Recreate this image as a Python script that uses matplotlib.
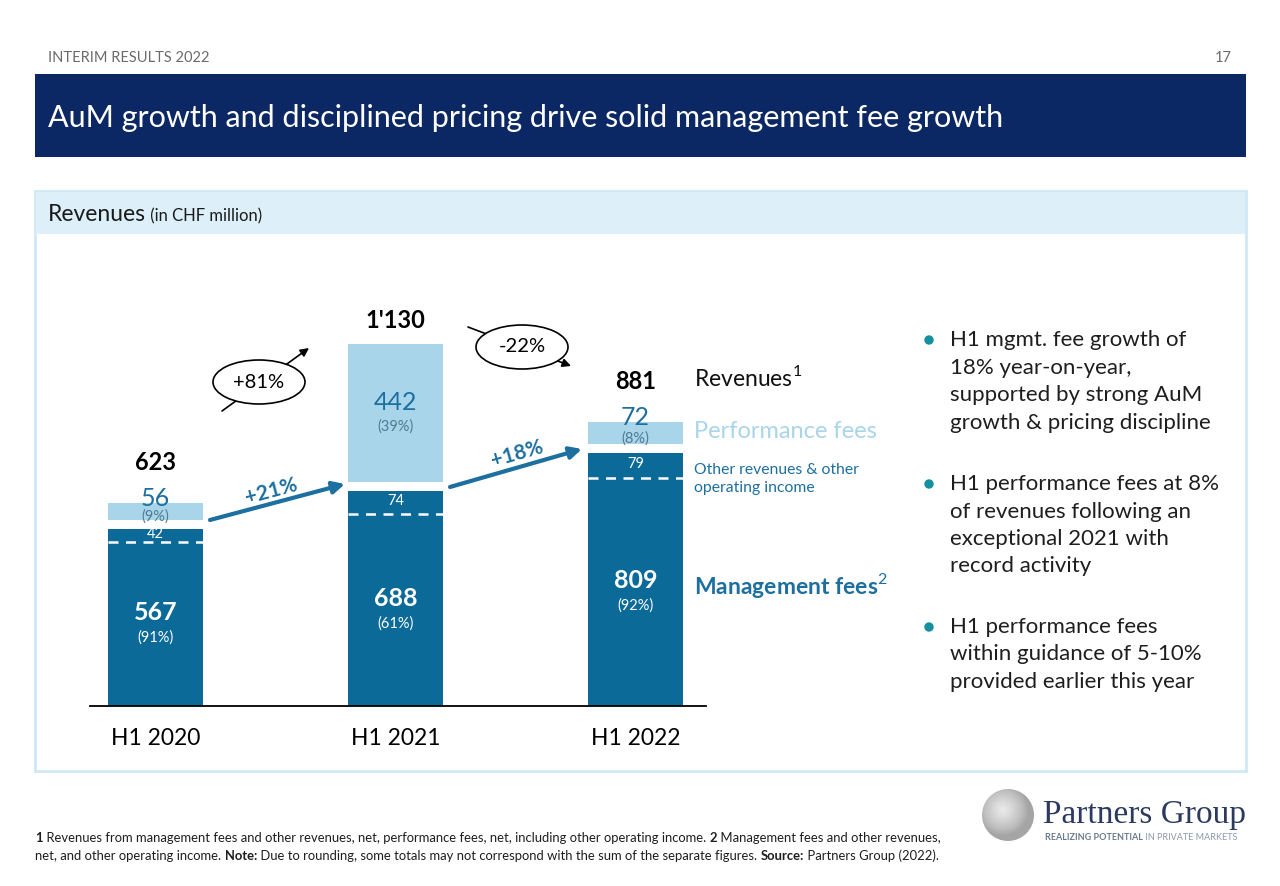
import numpy as np
import matplotlib
matplotlib.use("Agg")
from matplotlib import pyplot as plt
from matplotlib.patches import Rectangle, Ellipse, Circle

plt.rcParams["font.family"] = ["Lato", "DejaVu Sans"]
plt.rcParams["mathtext.fontset"] = "custom"
plt.rcParams["mathtext.rm"] = "Lato"
plt.rcParams["mathtext.bf"] = "Lato:bold"

# data (CHF million)
periods = ["H1 2020", "H1 2021", "H1 2022"]
mgmt_fees = np.array([567, 688, 809])      # incl. other revenues
other_rev = np.array([42, 74, 79])
perf_fees = np.array([56, 442, 72])
totals = ["623", "1'130", "881"]
mgmt_share = ["(91%)", "(61%)", "(92%)"]
perf_share = ["(9%)", "(39%)", "(8%)"]
growth_mgmt = ["+21%", "+18%"]
growth_total = ["+81%", "-22%"]

bullets = [
    ["H1 mgmt. fee growth of", "18% year-on-year,",
     "supported by strong AuM", "growth & pricing discipline"],
    ["H1 performance fees at 8%", "of revenues following an",
     "exceptional 2021 with", "record activity"],
    ["H1 performance fees", "within guidance of 5-10%",
     "provided earlier this year"],
]

DARK = "#0b6a98"
LIGHT = "#a8d5ea"
MID = "#1d6f9f"
NAVY = "#0c2864"
GAP = 28  # white gap between the two stacked blocks

W, H = 1280, 886
fig = plt.figure(figsize=(W / 100, H / 100), dpi=100)

# background layer in pixel coordinates
bg = fig.add_axes([0, 0, 1, 1], zorder=0)
bg.set_xlim(0, W)
bg.set_ylim(H, 0)
bg.axis("off")
bg.add_patch(Rectangle((35, 74), 1211, 83, color=NAVY, lw=0))
bg.add_patch(Rectangle((35, 191), 1211, 580, facecolor="white",
                       edgecolor="#cfe8f4", lw=2))
bg.add_patch(Rectangle((36, 192), 1209, 42, color="#ddf0f9", lw=0))

# chart axes
ax = fig.add_axes([90 / W, (H - 706) / H, 616 / W, 406 / H], zorder=1)
ax.patch.set_alpha(0)
x = np.arange(len(periods))
bw = 0.396
ax.bar(x, mgmt_fees, width=bw, color=DARK, lw=0)
ax.bar(x, perf_fees, width=bw, bottom=mgmt_fees + GAP, color=LIGHT, lw=0)
ax.hlines(mgmt_fees - other_rev, x - bw / 2, x + bw / 2, colors="white",
          linestyles=(0, (4, 3)), lw=1.8)
ax.set_xlim(-0.273, 2.294)
ax.set_ylim(0, 1299)
for s in ["top", "left", "right"]:
    ax.spines[s].set_visible(False)
ax.spines["bottom"].set_linewidth(1.3)
ax.set_yticks([])
ax.set_xticks(x, periods, fontsize=16.5)
ax.tick_params(axis="x", length=0, pad=16)

for i in range(len(periods)):
    m, o, p = mgmt_fees[i], other_rev[i], perf_fees[i]
    ax.annotate(str(m), (x[i], (m - o) / 2), xytext=(0, 8),
                textcoords="offset points", ha="center", va="center",
                color="white", fontsize=18, fontweight="bold")
    ax.annotate(mgmt_share[i], (x[i], (m - o) / 2), xytext=(0, -10),
                textcoords="offset points", ha="center", va="center",
                color="white", fontsize=10.5)
    ax.annotate(str(o), (x[i], m - o / 2), xytext=(0, 1),
                textcoords="offset points", ha="center", va="center",
                color="white", fontsize=10.5)
    ptop = m + GAP + p
    if p > 200:
        pc = m + GAP + p / 2
        ax.annotate(str(p), (x[i], pc), xytext=(0, 8),
                    textcoords="offset points", ha="center", va="center",
                    color=MID, fontsize=18)
        ax.annotate(perf_share[i], (x[i], pc), xytext=(0, -10),
                    textcoords="offset points", ha="center", va="center",
                    color="#4f7a96", fontsize=10.5)
        tot_off = 17
    else:
        ax.annotate(str(p), (x[i], ptop), xytext=(0, 3),
                    textcoords="offset points", ha="center", va="center",
                    color=MID, fontsize=18)
        ax.annotate(perf_share[i], (x[i], m + GAP + p / 2), xytext=(0, -4),
                    textcoords="offset points", ha="center", va="center",
                    color="#4f7a96", fontsize=10.5)
        tot_off = 29
    ax.annotate(totals[i], (x[i], ptop), xytext=(0, tot_off),
                textcoords="offset points", ha="center", va="center",
                color="black", fontsize=17, fontweight="bold")

# overlay for annotations, pixel coordinates
top = fig.add_axes([0, 0, 1, 1], zorder=3)
top.set_xlim(0, W)
top.set_ylim(H, 0)
top.axis("off")
top.patch.set_alpha(0)

top.text(48, 58, "INTERIM RESULTS 2022", fontsize=10.5, color="#6b6b6b",
         va="center")
top.text(1232, 58, "17", fontsize=10.5, color="#6b6b6b", va="center",
         ha="right")
top.text(48, 118, "AuM growth and disciplined pricing drive solid "
         "management fee growth", fontsize=22, color="white", va="center")
t = top.text(48, 214, "Revenues", fontsize=16.5, color="#1a1a1a",
             va="center")
top.annotate(" (in CHF million)", xy=(1, 0), xycoords=t, va="bottom",
             fontsize=12, color="#1a1a1a")

# growth arrows (management fees)
for (x0, y0, x1, y1), lab, (tx, ty), rot in zip(
        [(210, 520, 345, 484), (450, 487, 582, 449)], growth_mgmt,
        [(271, 491), (517, 454)], [15, 16]):
    top.annotate("", xy=(x1, y1), xytext=(x0, y0),
                 arrowprops=dict(arrowstyle="-|>,head_length=0.7,head_width=0.35",
                                 color=MID, lw=3, shrinkA=0, shrinkB=0))
    top.text(tx, ty, lab, color=MID, fontsize=15, fontweight="bold",
             rotation=rot, ha="center", va="center", rotation_mode="anchor")

# total revenue growth bubbles
for (x0, y0, x1, y1), lab, (cx, cy) in zip(
        [(222, 411, 309, 348), (468, 327, 571, 366)], growth_total,
        [(259, 382), (522, 347)]):
    top.annotate("", xy=(x1, y1), xytext=(x0, y0),
                 arrowprops=dict(arrowstyle="-|>,head_length=0.5,head_width=0.25",
                                 color="black", lw=1.2, shrinkA=0, shrinkB=0),
                 zorder=2)
    top.add_patch(Ellipse((cx, cy), 92, 44, facecolor="white",
                          edgecolor="black", lw=1.2, zorder=4))
    top.text(cx, cy, lab, fontsize=14.5, ha="center", va="center", zorder=5)

# series labels
top.text(694, 377, r"Revenues$^{\mathrm{1}}$", fontsize=16.5, va="center",
         color="#111111")
top.text(694, 431, "Performance fees", fontsize=17, va="center",
         color=LIGHT)
top.text(694, 479, "Other revenues & other\noperating income", fontsize=11.3,
         va="center", color=MID, linespacing=1.3)
top.text(694, 585, r"Management fees$^{\mathrm{2}}$", fontsize=16.5,
         va="center", color=MID, fontweight="bold")

# bullets
ys = [340, 484, 627]
for y0, lines in zip(ys, bullets):
    top.add_patch(Ellipse((929, y0), 8, 8, color="#14909e"))
    for j, ln in enumerate(lines):
        top.text(950, y0 + j * 27.5, ln, fontsize=16, va="center",
                 color="#1e1e1e")

# footnote with bold fragments
def runs(xp, yp, parts, size=9.4):
    prev = top.text(xp, yp, parts[0][0], fontsize=size, va="center",
                    fontweight="bold" if parts[0][1] else "normal",
                    color="#1e1e1e")
    for txt, b in parts[1:]:
        prev = top.annotate(txt, xy=(1, 0), xycoords=prev, va="bottom",
                            fontsize=size, color="#1e1e1e",
                            fontweight="bold" if b else "normal")

runs(35, 838, [("1", True),
               (" Revenues from management fees and other revenues, net, "
                "performance fees, net, including other operating income. ",
                False),
               ("2", True),
               (" Management fees and other revenues,", False)])
runs(35, 856, [("net, and other operating income. ", False),
               ("Note:", True),
               (" Due to rounding, some totals may not correspond with the "
                "sum of the separate figures. ", False),
               ("Source:", True),
               (" Partners Group (2022).", False)])

# logo
gx, gy = np.meshgrid(np.linspace(-1, 1, 80), np.linspace(-1, 1, 80))
shade = 0.55 + 0.3 * np.clip(1 - np.hypot(gx + 0.2, gy + 0.2), 0, 1)
im = top.imshow(shade, cmap="Greys_r", vmin=0, vmax=1,
                extent=(982, 1034, 841, 789), zorder=2)
clip = Circle((1008, 815), 26, transform=top.transData)
im.set_clip_path(clip)
top.text(1043, 815, "Partners Group", family="Liberation Serif",
         fontsize=24, color="#2b3a5e", va="center")
lg = top.text(1045, 838, "REALIZING POTENTIAL", fontsize=6.5,
              fontweight="bold", color="#6a7b8c", va="center")
top.annotate(" IN PRIVATE MARKETS", xy=(1, 0), xycoords=lg, va="bottom",
             fontsize=6.5, color="#8a9aaa")

fig.savefig("out.png", dpi=100)
